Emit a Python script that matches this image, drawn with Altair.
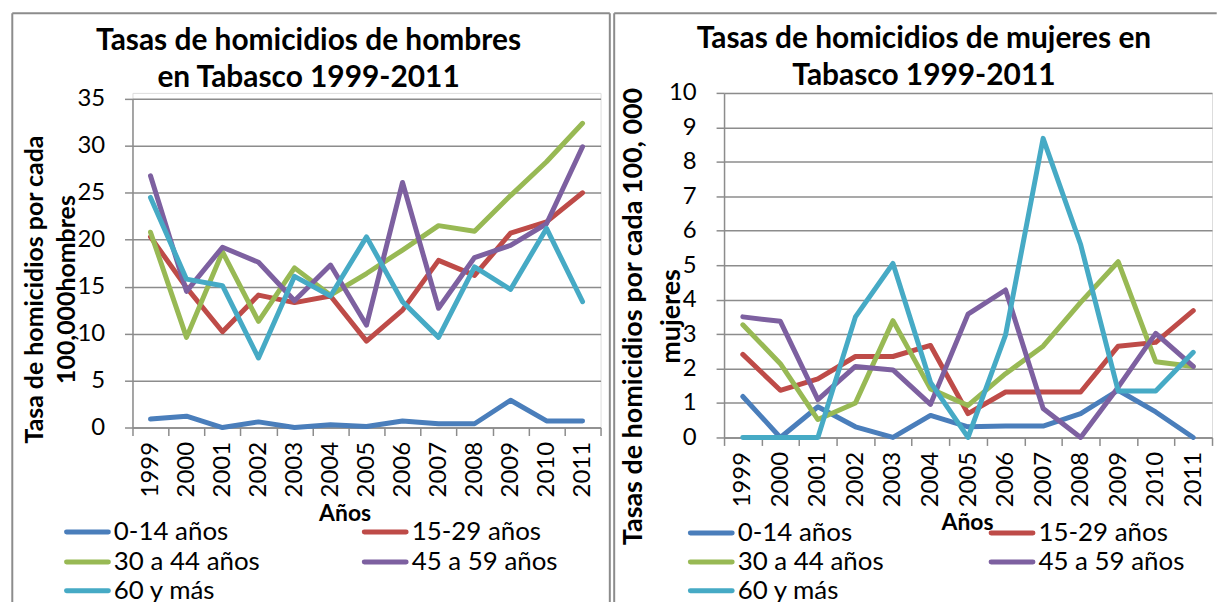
import altair as alt
import pandas as pd

years = [str(y) for y in range(1999, 2012)]
groups = ["0-14 años", "15-29 años", "30 a 44 años", "45 a 59 años", "60 y más"]
colors = ["#4A7EBB", "#BE4B48", "#98B954", "#7D60A0", "#46AAC5"]

# Hombres (tasa por 100,000 hombres)
hombres_0_14 = [0.9, 1.2, 0.0, 0.6, 0.0, 0.3, 0.1, 0.7, 0.4, 0.4, 2.9, 0.7, 0.7]
hombres_15_29 = [20.3, 14.9, 10.2, 14.1, 13.3, 14.0, 9.2, 12.5, 17.8, 16.2, 20.7, 21.9, 25.0]
hombres_30_44 = [20.8, 9.6, 18.7, 11.3, 17.0, 14.1, 16.4, 18.9, 21.5, 20.9, 24.7, 28.3, 32.4]
hombres_45_59 = [26.8, 14.5, 19.2, 17.6, 13.5, 17.3, 10.9, 26.1, 12.7, 18.1, 19.4, 21.7, 29.9]
hombres_60 = [24.5, 15.8, 15.1, 7.4, 16.1, 14.0, 20.3, 13.4, 9.6, 17.1, 14.7, 21.2, 13.4]

# Mujeres (tasa por 100,000 mujeres)
mujeres_0_14 = [1.19, 0.0, 0.89, 0.31, 0.0, 0.64, 0.31, 0.33, 0.33, 0.69, 1.37, 0.74, 0.0]
mujeres_15_29 = [2.41, 1.37, 1.70, 2.35, 2.35, 2.67, 0.69, 1.32, 1.32, 1.32, 2.65, 2.76, 3.68]
mujeres_30_44 = [3.27, 2.14, 0.52, 1.00, 3.39, 1.41, 0.93, 1.85, 2.65, 3.92, 5.10, 2.20, 2.06]
mujeres_45_59 = [3.50, 3.37, 1.10, 2.06, 1.96, 0.96, 3.58, 4.28, 0.84, 0.0, 1.46, 3.02, 2.06]
mujeres_60 = [0.0, 0.0, 0.0, 3.50, 5.05, 1.60, 0.0, 2.98, 8.68, 5.60, 1.35, 1.35, 2.47]

FONT = "Lato"
GRID = "#8c8c8c"


def long_df(series_list):
    rows = []
    for g, vals in zip(groups, series_list):
        for y, v in zip(years, vals):
            rows.append({"grupo": g, "año": y, "tasa": v})
    return pd.DataFrame(rows)


def panel(series_list, title_lines, title_x, title_y, ytitle, ytitle_fs, ymax, ystep,
          width, height, yrange, ytitle_x, ytitle_y, ytitle_lh, xtitle_x, xtitle_y,
          leg_cols, leg_rows, bx0, bx1, by0, by1, right_edge=True):
    df = long_df(series_list)
    lines = alt.Chart(df).mark_line(
        strokeWidth=5, strokeJoin="round", strokeCap="round"
    ).encode(
        x=alt.X(
            "año:N", sort=years,
            scale=alt.Scale(type="band", paddingInner=0, paddingOuter=0),
            axis=alt.Axis(
                title="Años", labelAngle=-90, tickBand="extent", grid=False,
                labelFont=FONT, labelFontSize=24, labelColor="black", labelPadding=6,
                tickSize=8, tickColor=GRID, tickWidth=1.5,
                domainColor=GRID, domainWidth=1.5,
                titleFont=FONT, titleFontSize=23, titleFontWeight="bold",
                titleColor="black", titleX=xtitle_x, titleY=xtitle_y,
                titleAlign="center", titleBaseline="middle",
            ),
        ),
        y=alt.Y(
            "tasa:Q",
            scale=alt.Scale(domain=[0, ymax], nice=False, range=yrange),
            axis=alt.Axis(
                values=list(range(0, ymax + 1, ystep)), title=ytitle,
                grid=True, gridColor=GRID, gridWidth=1.5,
                domainColor=GRID, domainWidth=1.5,
                tickColor=GRID, tickWidth=1.5, tickSize=8,
                labelFont=FONT, labelFontSize=24, labelColor="black", labelPadding=20,
                titleFont=FONT, titleFontSize=ytitle_fs, titleFontWeight="bold",
                titleColor="black", titleAngle=270, titleX=ytitle_x, titleY=ytitle_y,
                titleAlign="center", titleBaseline="middle", titleLineHeight=ytitle_lh,
            ),
        ),
        color=alt.Color(
            "grupo:N", sort=groups,
            scale=alt.Scale(domain=groups, range=colors),
            legend=None,
        ),
    )

    frame_df = pd.DataFrame({"k": [0]})
    frame = alt.Chart(frame_df)
    left = frame.mark_rule(color=GRID, strokeWidth=2).encode(
        x=alt.value(bx0), y=alt.value(by0), y2=alt.value(by1))
    top = frame.mark_rule(color=GRID, strokeWidth=2).encode(
        x=alt.value(bx0), x2=alt.value(bx1), y=alt.value(by0))
    layers = [left, top]
    if right_edge:
        right = frame.mark_rule(color=GRID, strokeWidth=2).encode(
            x=alt.value(bx1), y=alt.value(by0), y2=alt.value(by1))
        layers.append(right)
    for i, line in enumerate(title_lines):
        layers.append(
            frame.mark_text(
                font=FONT, fontSize=30, fontWeight="bold", color="black",
                align="center", baseline="alphabetic",
            ).encode(
                x=alt.value(title_x), y=alt.value(title_y + 37 * i),
                text=alt.value(line),
            )
        )

    # legend: two columns, row-major, drawn from the groups / colors lists
    for i, (g, c) in enumerate(zip(groups, colors)):
        sx0 = leg_cols[i % 2]
        ry = leg_rows[i // 2]
        layers.append(
            frame.mark_rule(strokeWidth=5, strokeCap="round").encode(
                x=alt.value(sx0 + 2.5), x2=alt.value(sx0 + 44.5), y=alt.value(ry),
                color=alt.value(c),
            )
        )
        layers.append(
            frame.mark_text(
                font=FONT, fontSize=26, color="black", align="left", baseline="middle",
            ).encode(
                x=alt.value(sx0 + 50), y=alt.value(ry), text=alt.value(g),
            )
        )

    return alt.layer(*layers, lines).properties(width=width, height=height)


# origin of both plot groups is at page y=91
left_panel = panel(
    [hombres_0_14, hombres_15_29, hombres_30_44, hombres_45_59, hombres_60],
    ["Tasas de homicidios de hombres", "en Tabasco 1999-2011"], 176.8, -43,
    ["Tasa de homicidios por cada", "100,000hombres"], 25, 35, 5,
    470, 336, [336, 6],
    -98.7, 197, 32, 213, 86,
    [-68.7, 230.3], [441, 471, 500],
    -120.7, 479.3, -80, 515,
)

right_panel = panel(
    [mujeres_0_14, mujeres_15_29, mujeres_30_44, mujeres_45_59, mujeres_60],
    ["Tasas de homicidios de mujeres en", "Tabasco 1999-2011"], 200.7, -45,
    ["Tasas de homicidios por cada 100, 000", "mujeres"], 27, 10, 1,
    490, 346, [346, 0],
    -91.3, 224, 39, 244, 85,
    [-36.3, 265.7], [442, 471, 500],
    -110.3, 494.7, -80, 515, right_edge=False,
)

chart = alt.hconcat(left_panel, right_panel, spacing=1).resolve_scale(
    color="independent", y="independent", x="independent"
).properties(
    padding={"left": 2, "top": 2, "right": 0, "bottom": 0}
).configure_view(stroke="transparent").configure(background="white")

chart.save("out.html", embed_options={"renderer": "svg", "actions": False})
